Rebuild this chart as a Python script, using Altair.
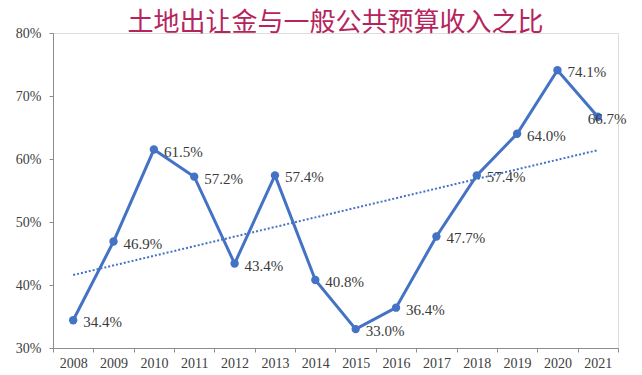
import altair as alt
import pandas as pd

years = [2008, 2009, 2010, 2011, 2012, 2013, 2014, 2015, 2016, 2017, 2018, 2019, 2020, 2021]
ratios = [34.4, 46.9, 61.5, 57.2, 43.4, 57.4, 40.8, 33.0, 36.4, 47.7, 57.4, 64.0, 74.1, 66.7]
title_text = "土地出让金与一般公共预算收入之比"

df = pd.DataFrame({"year": years, "ratio": ratios})
df["label"] = [f"{v:.1f}%" for v in ratios]
df["frac"] = df["ratio"] / 100

blue = "#4472C4"
serif = "Liberation Serif"

x_enc = alt.X("year:O", title=None,
              scale=alt.Scale(paddingInner=0, paddingOuter=0, domain=years),
              axis=alt.Axis(labelAngle=0, tickBand="extent", labelFont=serif,
                            labelFontSize=14, labelColor="#404040", tickSize=4,
                            labelPadding=4, domainColor="#8c8c8c", tickColor="#8c8c8c"))
y_enc = alt.Y("frac:Q", title=None,
              scale=alt.Scale(domain=[0.3, 0.8], nice=False, zero=False),
              axis=alt.Axis(format=".0%", values=[0.3, 0.4, 0.5, 0.6, 0.7, 0.8],
                            grid=False, labelFont=serif, labelFontSize=14,
                            labelColor="#404040", tickSize=4, labelPadding=8,
                            domainColor="#8c8c8c", tickColor="#8c8c8c"))

base = alt.Chart(df)

trend = base.transform_regression("year", "frac", method="linear").mark_line(
    color=blue, strokeWidth=2, strokeDash=[2, 2]
).encode(x=alt.X("year:O"), y=alt.Y("frac:Q"))

line = base.mark_line(color=blue, strokeWidth=3).encode(x=x_enc, y=y_enc)
pts = base.mark_circle(color=blue, size=70, opacity=1).encode(x="year:O", y="frac:Q")

labels = base.transform_filter(alt.datum.year != 2021).mark_text(
    align="left", baseline="middle", dx=10, dy=2, font=serif, fontSize=15, color="#3a3a3a"
).encode(x="year:O", y="frac:Q", text="label:N")

last_label = base.transform_filter(alt.datum.year == 2021).mark_text(
    align="left", baseline="middle", dx=-10, dy=2, font=serif, fontSize=15, color="#3a3a3a"
).encode(x="year:O", y="frac:Q", text="label:N")

chart = alt.layer(line, trend, pts, labels, last_label).properties(
    width=565, height=315,
    autosize=alt.AutoSizeParams(type="none"),
    padding={"left": 45, "top": 25, "right": 16, "bottom": 22},
    title=alt.TitleParams(title_text, font="Noto Sans CJK SC", fontSize=26,
                          fontWeight="normal", color="#B5245C", offset=-10,
                          anchor="middle"),
).configure_view(stroke=None).configure(background="white")

chart.save("out.html", embed_options={"renderer": "svg", "actions": False})
